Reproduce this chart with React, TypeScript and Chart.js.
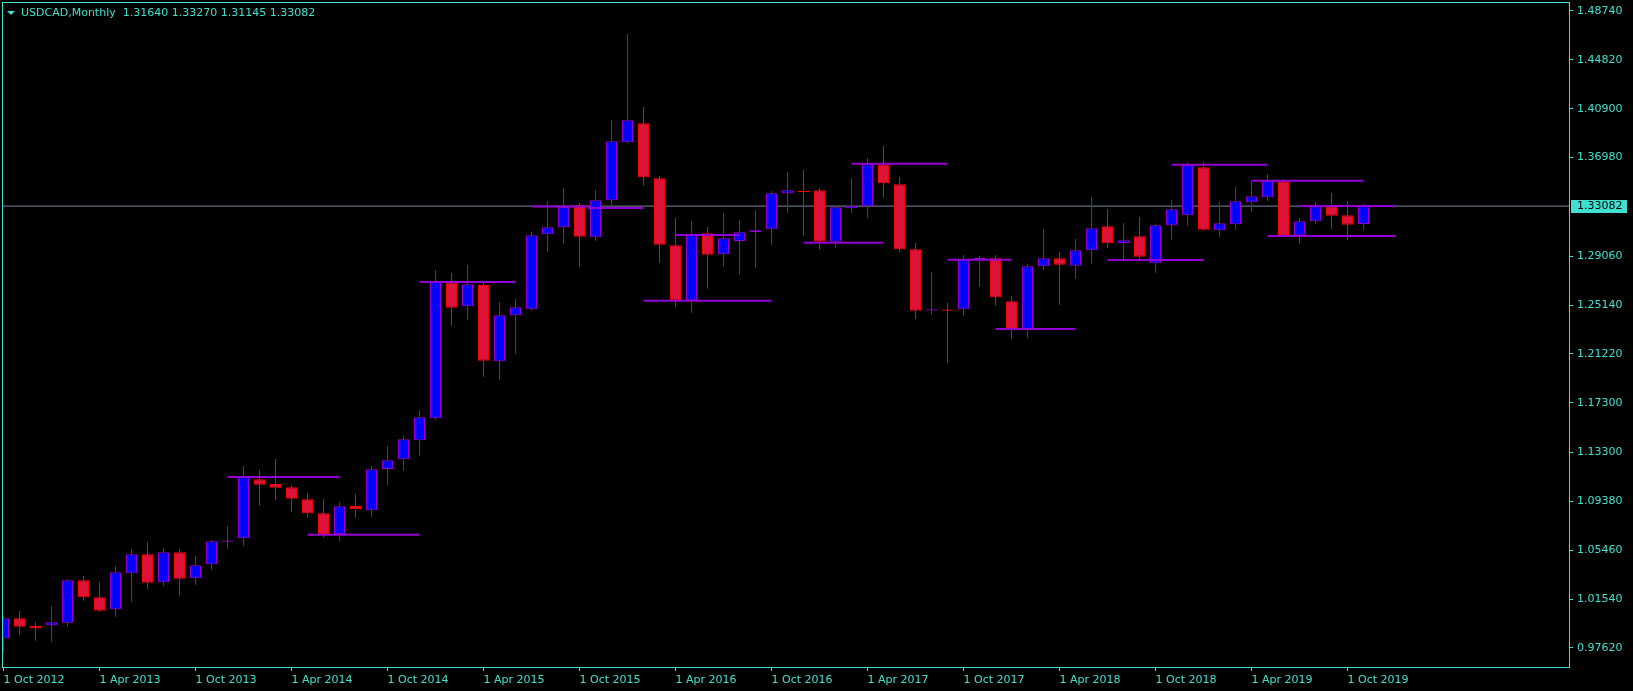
import React, { useEffect, useRef } from 'react';
import { Chart, registerables } from 'chart.js';

Chart.register(...registerables);

// ---------- data ----------
const symbolTitle = 'USDCAD,Monthly';
const lastBarValues = ['1.31640', '1.33270', '1.31145', '1.33082'];
const bidPrice = 1.33082;

// monthly bars, Oct 2012 .. Nov 2019
const opens = [
  0.9840, 1.0000, 0.9939, 0.9944, 0.9965, 1.0305, 1.0169, 1.0072, 1.0361, 1.0514,
  1.0289, 1.0530, 1.0321, 1.0433, 1.0614, 1.0642, 1.1116, 1.1078, 1.1051, 1.0955,
  1.0843, 1.0677, 1.0901, 1.0867, 1.1198, 1.1276, 1.1429, 1.1605, 1.2694, 1.2504,
  1.2675, 1.2063, 1.2432, 1.2480, 1.3082, 1.3138, 1.3315, 1.3058, 1.3355, 1.3820,
  1.3973, 1.3531, 1.2994, 1.2552, 1.3090, 1.2921, 1.3028, 1.3098, 1.3122, 1.3411,
  1.3432, 1.3435, 1.3023, 1.3291, 1.3307, 1.3644, 1.3483, 1.2961, 1.2470, 1.2478,
  1.2480, 1.2882, 1.2889, 1.2544, 1.2311, 1.2825, 1.2889, 1.2830, 1.2953, 1.3146,
  1.3012, 1.3066, 1.2849, 1.3154, 1.3234, 1.3620, 1.3114, 1.3162, 1.3339, 1.3379,
  1.3507, 1.3074, 1.3186, 1.3307, 1.3234, 1.31640,
];
const highs = [
  1.0019, 1.0058, 0.9970, 1.0099, 1.0313, 1.0339, 1.0292, 1.0420, 1.0556, 1.0612,
  1.0564, 1.0556, 1.0500, 1.0628, 1.0741, 1.1222, 1.1190, 1.1279, 1.1067, 1.1003,
  1.0955, 1.0931, 1.0998, 1.1222, 1.1383, 1.1463, 1.1672, 1.2795, 1.2771, 1.2835,
  1.2693, 1.2539, 1.2563, 1.3100, 1.3349, 1.3453, 1.3333, 1.3437, 1.4000, 1.4689,
  1.4104, 1.3550, 1.3213, 1.3189, 1.3140, 1.3253, 1.3197, 1.3277, 1.3427, 1.3582,
  1.3598, 1.3453, 1.3309, 1.3534, 1.3694, 1.3791, 1.3542, 1.3012, 1.2779, 1.2533,
  1.2916, 1.2908, 1.2916, 1.2587, 1.2844, 1.3124, 1.2940, 1.3044, 1.3381, 1.3283,
  1.3173, 1.3221, 1.3165, 1.3357, 1.3660, 1.3660, 1.3341, 1.3462, 1.3512, 1.3566,
  1.3526, 1.3213, 1.3341, 1.3413, 1.3349, 1.33270,
];
const lows = [
  0.9732, 0.9866, 0.9820, 0.9812, 0.9933, 1.0141, 1.0053, 1.0013, 1.0133, 1.0238,
  1.0262, 1.0182, 1.0270, 1.0390, 1.0559, 1.0583, 1.0904, 1.0950, 1.0853, 1.0807,
  1.0647, 1.0615, 1.0807, 1.0815, 1.1064, 1.1185, 1.1305, 1.1594, 1.2348, 1.2396,
  1.1937, 1.1915, 1.2124, 1.2469, 1.2942, 1.3006, 1.2822, 1.3031, 1.3303, 1.3815,
  1.3472, 1.2854, 1.2496, 1.2453, 1.2645, 1.2822, 1.2758, 1.2814, 1.2998, 1.3255,
  1.3071, 1.2958, 1.2974, 1.3255, 1.3215, 1.3376, 1.2942, 1.2402, 1.2437, 1.2051,
  1.2429, 1.2661, 1.2509, 1.2242, 1.2252, 1.2798, 1.2514, 1.2726, 1.2846, 1.2974,
  1.2881, 1.2881, 1.2774, 1.3039, 1.3151, 1.3111, 1.3063, 1.3119, 1.3263, 1.3349,
  1.3058, 1.3006, 1.3167, 1.3127, 1.3039, 1.31145,
];
const closes = [
  1.0000, 0.9933, 0.9918, 0.9968, 1.0305, 1.0169, 1.0061, 1.0369, 1.0514, 1.0286,
  1.0530, 1.0318, 1.0425, 1.0618, 1.0624, 1.1136, 1.1072, 1.1048, 1.0960, 1.0843,
  1.0677, 1.0899, 1.0875, 1.1196, 1.1268, 1.1437, 1.1613, 1.2699, 1.2493, 1.2681,
  1.2067, 1.2432, 1.2496, 1.3074, 1.3138, 1.3301, 1.3063, 1.3355, 1.3828, 1.3997,
  1.3539, 1.2998, 1.2552, 1.3087, 1.2918, 1.3050, 1.3098, 1.3114, 1.3411, 1.3435,
  1.3422, 1.3023, 1.3298, 1.3311, 1.3644, 1.3491, 1.2961, 1.2469, 1.2480, 1.2468,
  1.2881, 1.2891, 1.2576, 1.2311, 1.2825, 1.2889, 1.2838, 1.2953, 1.3130, 1.3010,
  1.3034, 1.2902, 1.3154, 1.3282, 1.3638, 1.3119, 1.3170, 1.3347, 1.3387, 1.3512,
  1.3076, 1.3186, 1.3307, 1.3231, 1.3159, 1.33082,
];

// time axis ticks (bar index -> label)
const xTickIndex = [0, 6, 12, 18, 24, 30, 36, 42, 48, 54, 60, 66, 72, 78, 84];
const xTickLabels = [
  '1 Oct 2012', '1 Apr 2013', '1 Oct 2013', '1 Apr 2014', '1 Oct 2014',
  '1 Apr 2015', '1 Oct 2015', '1 Apr 2016', '1 Oct 2016', '1 Apr 2017',
  '1 Oct 2017', '1 Apr 2018', '1 Oct 2018', '1 Apr 2019', '1 Oct 2019',
];

// price axis ticks
const yTickValues = [
  1.4874, 1.4482, 1.409, 1.3698, 1.2906, 1.2514, 1.2122, 1.173, 1.133, 1.0938,
  1.0546, 1.0154, 0.9762,
];
const yTickLabels = [
  '1.48740', '1.44820', '1.40900', '1.36980', '1.29060', '1.25140', '1.21220',
  '1.17300', '1.13300', '1.09380', '1.05460', '1.01540', '0.97620',
];

// horizontal support / resistance levels
const levelPrices = [
  1.1134, 1.0671, 1.2699, 1.3304, 1.3293, 1.3076, 1.2549, 1.3014,
  1.3649, 1.2878, 1.2322, 1.2876, 1.3641, 1.3512, 1.3309, 1.3068,
];
const levelStarts = [14, 19, 26, 33, 36.5, 42, 40, 50, 53, 59, 62, 69, 73, 78, 81, 79];
const levelEnds = [21, 26, 32, 36.5, 40, 46, 48, 55, 59, 63, 67, 75, 79, 85, 87, 87];

// ---------- styling ----------
const FG = '#40E0D0';
const BULL_FILL = '#0000FF';
const BULL_LINE = '#9400D3';
const BEAR_FILL = '#DC143C';
const BEAR_LINE = '#FF0000';
const LEVEL_COLOR = '#9400D3';
const BID_COLOR = '#778899';
const FONT_FAMILY = '"DejaVu Sans", sans-serif';

const X_MIN = -0.09375;
const X_MAX = 97.90625;
const Y_MIN = 0.96091;
const Y_MAX = 1.49462;

const overlayPlugin = {
  id: 'mt4Overlay',
  afterDraw(chart: any) {
    const { ctx, chartArea: a, scales } = chart;
    ctx.save();
    // frame
    ctx.strokeStyle = FG;
    ctx.lineWidth = 1;
    ctx.strokeRect(a.left + 0.5, a.top + 0.5, a.right - a.left - 1, a.bottom - a.top);
    // title
    ctx.fillStyle = FG;
    ctx.beginPath();
    ctx.moveTo(7, 11);
    ctx.lineTo(15, 11);
    ctx.lineTo(11, 15);
    ctx.closePath();
    ctx.fill();
    ctx.font = `11px ${FONT_FAMILY}`;
    ctx.textBaseline = 'alphabetic';
    ctx.textAlign = 'left';
    ctx.fillText(`${symbolTitle}  ${lastBarValues.join(' ')}`, 21, 16);
    // bid price box
    const y = scales.y.getPixelForValue(bidPrice);
    ctx.fillStyle = FG;
    ctx.fillRect(a.right + 1, Math.round(y) - 6, 56, 13);
    ctx.fillStyle = '#000';
    ctx.textBaseline = 'middle';
    ctx.fillText(bidPrice.toFixed(5), a.right + 7, y + 0.5);
    ctx.restore();
  },
};

export default function App() {
  const ref = useRef<HTMLCanvasElement>(null);

  useEffect(() => {
    if (!ref.current) return;
    const isBull = opens.map((o, i) => closes[i] >= o);

    const levelDatasets = levelPrices.map((p, i) => ({
      type: 'line' as const,
      label: `level${i}`,
      order: 0,
      data: [
        { x: levelStarts[i], y: p },
        { x: levelEnds[i], y: p },
      ],
      borderColor: LEVEL_COLOR,
      borderWidth: 2,
      pointRadius: 0,
      fill: false,
    }));

    const chart = new Chart(ref.current, {
      type: 'bar',
      data: {
        datasets: [
          ...levelDatasets,
          {
            type: 'bar',
            label: 'body',
            order: 1,
            grouped: false,
            data: opens.map((o, i) => ({ x: i, y: [o, closes[i]] })),
            backgroundColor: isBull.map((b) => (b ? BULL_FILL : BEAR_FILL)),
            borderColor: isBull.map((b) => (b ? BULL_LINE : BEAR_LINE)),
            borderWidth: 1,
            borderSkipped: false,
            barThickness: 11,
            inflateAmount: 0,
          },
          {
            type: 'bar',
            label: 'wick',
            order: 2,
            grouped: false,
            data: lows.map((l, i) => ({ x: i, y: [l, highs[i]] })),
            backgroundColor: isBull.map((b) => (b ? BULL_LINE : BEAR_LINE)),
            borderWidth: 0,
            barThickness: 1,
            inflateAmount: 0,
          },
          {
            type: 'line',
            label: 'bid',
            order: 3,
            data: [
              { x: X_MIN, y: bidPrice },
              { x: X_MAX, y: bidPrice },
            ],
            borderColor: BID_COLOR,
            borderWidth: 1,
            pointRadius: 0,
            fill: false,
          },
        ] as any,
      },
      options: {
        responsive: false,
        animation: false,
        devicePixelRatio: 1,
        events: [],
        layout: { padding: { left: 2, top: 2, right: 0, bottom: 0 } },
        plugins: {
          legend: { display: false },
          tooltip: { enabled: false },
        },
        scales: {
          x: {
            type: 'linear',
            min: X_MIN,
            max: X_MAX,
            offset: false,
            afterBuildTicks: (s: any) => {
              s.ticks = xTickIndex.map((v) => ({ value: v }));
            },
            afterFit: (s: any) => {
              s.height = 24;
              s.paddingLeft = 0;
              s.paddingRight = 0;
            },
            grid: {
              display: true,
              offset: false,
              drawOnChartArea: false,
              drawTicks: true,
              tickLength: 4,
              color: FG,
            },
            border: { display: false },
            ticks: {
              autoSkip: false,
              maxRotation: 0,
              minRotation: 0,
              align: 'start',
              padding: 3,
              color: FG,
              font: { family: FONT_FAMILY, size: 11 },
              callback: (_v: any, i: number) => xTickLabels[i],
            },
          },
          y: {
            type: 'linear',
            position: 'right',
            min: Y_MIN,
            max: Y_MAX,
            beginAtZero: false,
            afterBuildTicks: (s: any) => {
              s.ticks = yTickValues.map((v) => ({ value: v }));
            },
            afterFit: (s: any) => {
              s.width = 63;
              s.paddingTop = 0;
              s.paddingBottom = 0;
            },
            grid: {
              display: true,
              drawOnChartArea: false,
              drawTicks: true,
              tickLength: 3,
              color: FG,
            },
            border: { display: false },
            ticks: {
              autoSkip: false,
              padding: 4,
              color: FG,
              font: { family: FONT_FAMILY, size: 11 },
              callback: (_v: any, i: number) => yTickLabels[i],
            },
          },
        },
      } as any,
      plugins: [overlayPlugin],
    });

    return () => chart.destroy();
  }, []);

  return (
    <div
      style={{
        position: 'fixed',
        left: 0,
        top: 0,
        width: 1633,
        height: 691,
        background: '#000',
      }}
    >
      <canvas
        ref={ref}
        width={1633}
        height={691}
        style={{ display: 'block', width: 1633, height: 691 }}
      />
    </div>
  );
}
